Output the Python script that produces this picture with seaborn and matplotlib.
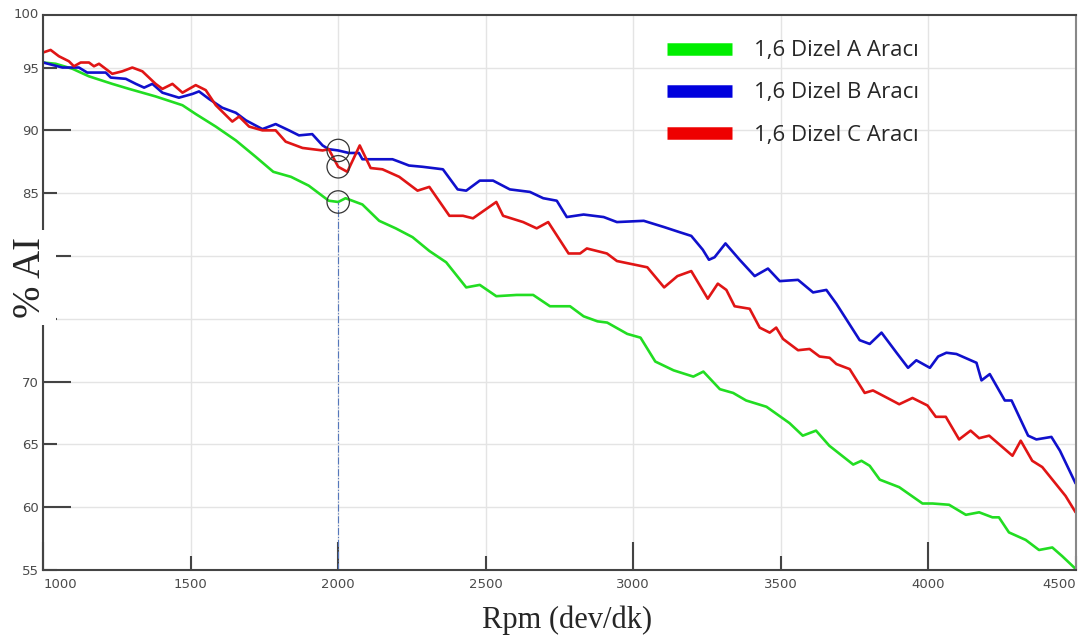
import numpy as np
import pandas as pd
import matplotlib
matplotlib.use('Agg')
import matplotlib.pyplot as plt
import seaborn as sns
from matplotlib.lines import Line2D

# series names
names = ['1,6 Dizel A Aracı', '1,6 Dizel B Aracı', '1,6 Dizel C Aracı']

# A (green)
rpm_a = [1000, 1042, 1099, 1155, 1234, 1291, 1381, 1472, 1517, 1585, 1653, 1720, 1780, 1840,
         1900, 1968, 2000, 2025, 2082, 2139, 2195, 2252, 2309, 2366, 2434, 2480, 2536, 2605,
         2661, 2718, 2786, 2832, 2879, 2912, 2980, 3025, 3075, 3137, 3204, 3238, 3294, 3339,
         3383, 3452, 3530, 3575, 3620, 3665, 3746, 3774, 3802, 3836, 3902, 3981, 4015, 4071,
         4128, 4173, 4218, 4240, 4274, 4331, 4376, 4421, 4455, 4500]
ai_a = [95.4, 95.3, 94.9, 94.3, 93.7, 93.3, 92.7, 92.0, 91.3, 90.3, 89.2, 87.9, 86.7, 86.3,
        85.6, 84.4, 84.3, 84.6, 84.1, 82.8, 82.2, 81.5, 80.4, 79.5, 77.5, 77.7, 76.8, 76.9,
        76.9, 76.0, 76.0, 75.2, 74.8, 74.7, 73.8, 73.5, 71.6, 70.9, 70.4, 70.8, 69.4, 69.1,
        68.5, 68.0, 66.7, 65.7, 66.1, 64.9, 63.4, 63.7, 63.3, 62.2, 61.6, 60.3, 60.3, 60.2,
        59.4, 59.6, 59.2, 59.2, 58.0, 57.4, 56.6, 56.8, 56.1, 55.1]

# B (blue)
rpm_b = [1000, 1065, 1121, 1149, 1212, 1229, 1280, 1314, 1342, 1370, 1404, 1460, 1506, 1528,
         1562, 1607, 1653, 1687, 1743, 1788, 1833, 1867, 1912, 1947, 1968, 2000, 2036, 2070,
         2082, 2116, 2184, 2207, 2240, 2286, 2355, 2405, 2434, 2480, 2525, 2582, 2650, 2695,
         2741, 2775, 2832, 2900, 2945, 3036, 3105, 3157, 3197, 3236, 3257, 3276, 3313, 3361,
         3412, 3457, 3497, 3559, 3610, 3655, 3689, 3768, 3802, 3842, 3893, 3932, 3960, 4006,
         4034, 4062, 4096, 4164, 4181, 4209, 4260, 4283, 4339, 4367, 4418, 4447, 4500]
ai_b = [95.4, 95.0, 95.0, 94.6, 94.6, 94.2, 94.1, 93.7, 93.4, 93.7, 93.0, 92.6, 92.9, 93.1,
        92.5, 91.8, 91.4, 90.8, 90.1, 90.5, 90.0, 89.6, 89.7, 88.8, 88.5, 88.4, 88.2, 88.2,
        87.7, 87.7, 87.7, 87.5, 87.2, 87.1, 86.9, 85.3, 85.2, 86.0, 86.0, 85.3, 85.1, 84.6,
        84.4, 83.1, 83.3, 83.1, 82.7, 82.8, 82.3, 81.9, 81.6, 80.5, 79.7, 79.9, 81.0, 79.7,
        78.4, 79.0, 78.0, 78.1, 77.1, 77.3, 76.2, 73.3, 73.0, 73.9, 72.3, 71.1, 71.7, 71.1,
        72.0, 72.3, 72.2, 71.5, 70.1, 70.6, 68.5, 68.5, 65.7, 65.4, 65.6, 64.5, 61.9]

# C (red)
rpm_c = [1000, 1025, 1053, 1087, 1104, 1127, 1155, 1172, 1189, 1234, 1268, 1302, 1336, 1381,
         1404, 1438, 1472, 1517, 1551, 1585, 1641, 1664, 1698, 1743, 1788, 1822, 1879, 1947,
         1968, 2000, 2031, 2073, 2110, 2150, 2207, 2269, 2309, 2377, 2423, 2457, 2536, 2559,
         2627, 2673, 2712, 2781, 2820, 2843, 2911, 2945, 3048, 3105, 3150, 3197, 3253, 3287,
         3316, 3344, 3395, 3429, 3463, 3485, 3508, 3559, 3598, 3632, 3666, 3689, 3734, 3785,
         3813, 3870, 3902, 3947, 3998, 4026, 4060, 4105, 4144, 4173, 4207, 4286, 4314, 4353,
         4387, 4466, 4500]
ai_c = [96.2, 96.4, 95.9, 95.5, 95.1, 95.4, 95.4, 95.1, 95.3, 94.5, 94.7, 95.0, 94.7, 93.7,
        93.3, 93.7, 93.0, 93.6, 93.2, 92.0, 90.7, 91.1, 90.3, 90.0, 90.0, 89.1, 88.6, 88.4,
        88.5, 87.1, 86.7, 88.8, 87.0, 86.9, 86.3, 85.2, 85.5, 83.2, 83.2, 83.0, 84.3, 83.2,
        82.7, 82.2, 82.7, 80.2, 80.2, 80.6, 80.2, 79.6, 79.1, 77.5, 78.4, 78.8, 76.6, 77.8,
        77.3, 76.0, 75.8, 74.3, 73.9, 74.3, 73.4, 72.5, 72.6, 72.0, 71.9, 71.4, 71.0, 69.1,
        69.3, 68.6, 68.2, 68.7, 68.1, 67.2, 67.2, 65.4, 66.1, 65.5, 65.7, 64.1, 65.3, 63.7,
        63.2, 60.9, 59.6]

x_major = [1000, 2000, 3000, 4000]
x_minor = [1500, 2500, 3500, 4500]
y_major = [60, 70, 80, 90]
y_minor = [55, 65, 75, 85, 95]
hidden_y = [75, 80]   # covered by the axis title in the original
marked_rpm = 2000

colors = ['#22dd22', '#1010cc', '#e01515']
legend_colors = ['#00ee00', '#0000dd', '#ee0000']

df = pd.concat([
    pd.DataFrame({'rpm': rpm_a, 'ai': ai_a, 'arac': names[0]}),
    pd.DataFrame({'rpm': rpm_b, 'ai': ai_b, 'arac': names[1]}),
    pd.DataFrame({'rpm': rpm_c, 'ai': ai_c, 'arac': names[2]}),
])

sns.set_style('white')
fig = plt.figure(figsize=(10.81, 6.42), dpi=100)
ax = fig.add_axes([0.040, 0.112, 0.955, 0.865])

sns.lineplot(data=df, x='rpm', y='ai', hue='arac', palette=colors,
             estimator=None, sort=False, linewidth=1.9, legend=False, ax=ax)

# marked points at 2000 rpm
marks = [np.interp(marked_rpm, r, v) for r, v in [(rpm_a, ai_a), (rpm_b, ai_b), (rpm_c, ai_c)]]
ax.vlines(marked_rpm, 55, marks[0], colors='#5577bb', linestyles='-.', linewidth=0.8)
ax.scatter([marked_rpm] * 3, marks, s=260, facecolors='none', edgecolors='#333333',
           linewidths=0.9, zorder=5)

ax.set_xlim(1000, 4500)
ax.set_ylim(55, 99.2)
ax.set_xticks(x_major)
ax.set_xticks(x_minor, minor=True)
ax.set_yticks(y_major)
ax.set_yticks(y_minor, minor=True)
ax.set_yticklabels(['' if v in hidden_y else str(v) for v in y_major])
ax.set_yticklabels(['' if v in hidden_y else str(v) for v in y_minor], minor=True)
ax.set_xticklabels([str(v) for v in x_major])
ax.set_xticklabels([str(v) for v in x_minor], minor=True)
ax.xaxis.get_majorticklabels()[0].set_ha('left')
ax.xaxis.get_minorticklabels()[-1].set_ha('right')

ax.grid(True, which='both', color='#e4e4e4', linewidth=1)
ax.tick_params(which='both', direction='in', bottom=True, left=True, width=1.5,
               color='#444444', labelsize=9.5, labelcolor='#4a4a4a')
ax.tick_params(which='major', length=20)
ax.tick_params(which='minor', length=10)
ax.tick_params(axis='x', which='both', pad=6)
ax.tick_params(axis='y', which='both', pad=3)
for s in ax.spines.values():
    s.set_color('#444444')
    s.set_linewidth(1.5)
ax.spines['right'].set_color('#888888')
ax.set_xlabel('')
ax.set_ylabel('')
fig.text(0.036, 0.977, '100', ha='right', va='center', fontsize=9.5, color='#4a4a4a')

fig.text(0.525, 0.034, 'Rpm (dev/dk)', ha='center', va='center',
         family='Liberation Serif', fontsize=22)
fig.text(0.028, 0.567, '% AI', ha='center', va='center', rotation=90,
         family='Liberation Serif', fontsize=28,
         bbox=dict(facecolor='white', edgecolor='none', pad=5), zorder=10)

handles = [Line2D([0], [0], color=c, linewidth=9, solid_capstyle='butt') for c in legend_colors]
ax.legend(handles, names, loc='upper left', bbox_to_anchor=(0.585, 0.99), frameon=False,
          prop={'family': 'Open Sans', 'size': 16}, handlelength=2.9, handletextpad=1.0,
          labelspacing=0.95)

fig.savefig('out.png', dpi=100)
